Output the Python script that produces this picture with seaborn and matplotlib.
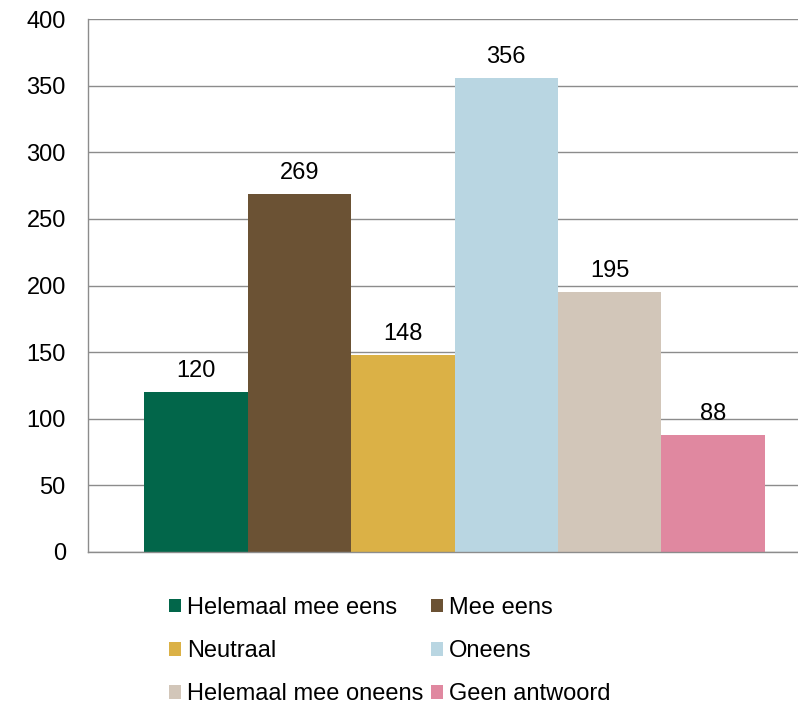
import matplotlib
matplotlib.use('Agg')
import pandas as pd
import matplotlib.pyplot as plt
import seaborn as sns

answers = ['Helemaal mee eens', 'Mee eens', 'Neutraal', 'Oneens',
           'Helemaal mee oneens', 'Geen antwoord']
counts = [120, 269, 148, 356, 195, 88]
colors = ['#02664A', '#6B5234', '#DBB146', '#B9D6E2', '#D2C6B9', '#E088A0']
y_ticks = [0, 50, 100, 150, 200, 250, 300, 350, 400]

sns.set_style('white')
plt.rcParams['font.family'] = ['Liberation Sans', 'DejaVu Sans']
plt.rcParams['text.color'] = 'black'
plt.rcParams['ytick.color'] = 'black'
plt.rcParams['xtick.color'] = 'black'

W, H = 798, 704
fig = plt.figure(figsize=(W / 100, H / 100), dpi=100)
# plot area runs a bit past the right edge of the picture, like the reference
ax = fig.add_axes([88 / W, 1 - 552 / H, (821 - 88) / W, (552 - 19) / H])

df = pd.DataFrame({'groep': [''] * len(answers), 'antwoord': answers, 'aantal': counts})
sns.barplot(data=df, x='groep', y='aantal', hue='antwoord', hue_order=answers,
            palette=colors, saturation=1, width=0.847, linewidth=0, ax=ax)

for cont in ax.containers:
    ax.bar_label(cont, padding=7, fontsize=17, color='black')

ax.set_xlim(-0.5, 0.5)
ax.set_ylim(0, 400)
ax.set_yticks(y_ticks)
ax.set_xticks([-0.5])
ax.set_xticklabels([''])
ax.set_xlabel('')
ax.set_ylabel('')
ax.tick_params(axis='y', length=0, pad=16, labelsize=17, labelcolor='black')
ax.tick_params(axis='x', length=6, width=1, color='#8c8c8c')
ax.yaxis.grid(True, color='#8c8c8c', linewidth=1)
ax.set_axisbelow(True)
for side in ['top', 'right']:
    ax.spines[side].set_visible(False)
for side in ['left', 'bottom']:
    ax.spines[side].set_color('#8c8c8c')
    ax.spines[side].set_linewidth(1)

handles, labels = ax.get_legend_handles_labels()
ax.get_legend().remove()
order = [0, 2, 4, 1, 3, 5]  # fill the legend row by row
leg = fig.legend([handles[i] for i in order], [labels[i] for i in order],
                 ncol=2, loc='upper left', bbox_to_anchor=(169 / W, 1 - 597 / H),
                 frameon=False, fontsize=17, handlelength=0.5, handleheight=0.5,
                 handletextpad=0.25, columnspacing=0.35, labelspacing=0.9,
                 borderpad=0, borderaxespad=0)
for t in leg.get_texts():
    t.set_color('black')

fig.savefig('out.png', dpi=100)
